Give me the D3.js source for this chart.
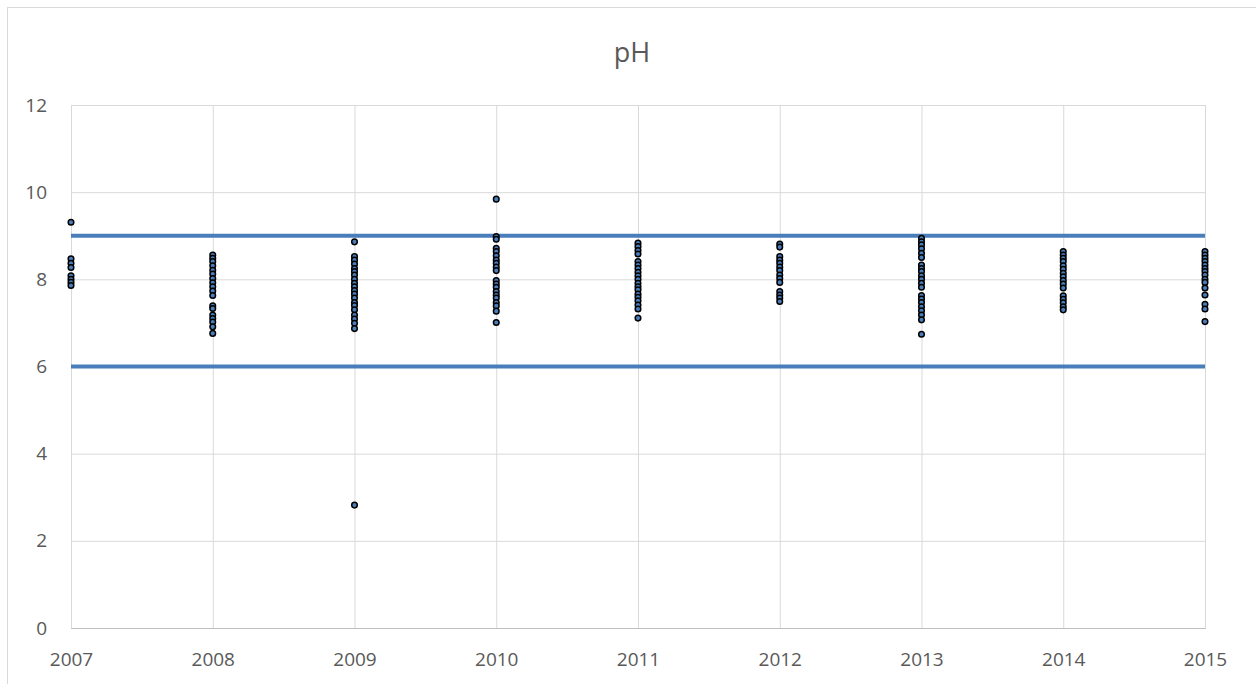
<!DOCTYPE html>
<html><head><meta charset="utf-8">
<script src="https://cdn.jsdelivr.net/npm/d3@7"></script>
<style>body{margin:0;background:#fff}svg{display:block}</style>
</head><body>
<script>
const years = [2007, 2008, 2009, 2010, 2011, 2012, 2013, 2014, 2015];
const yTicks = [0, 2, 4, 6, 8, 10, 12];
const limits = [6, 9];
const ph2007 = [9.31, 8.47, 8.37, 8.27, 8.08, 8.0, 7.93, 7.86];
const ph2008 = [8.56, 8.48, 8.41, 8.31, 8.21, 8.12, 8.02, 7.92, 7.83, 7.73, 7.63, 7.39, 7.33, 7.18, 7.10, 7.02, 6.91, 6.76];
const ph2009 = [8.86, 8.52, 8.44, 8.35, 8.25, 8.18, 8.10, 8.0, 7.91, 7.83, 7.74, 7.66, 7.57, 7.47, 7.40, 7.30, 7.18, 7.09, 6.99, 6.87, 2.82];
const ph2010 = [9.84, 8.98, 8.92, 8.71, 8.64, 8.54, 8.44, 8.37, 8.28, 8.20, 7.97, 7.89, 7.82, 7.72, 7.64, 7.57, 7.47, 7.39, 7.27, 7.01];
const ph2011 = [8.83, 8.75, 8.66, 8.58, 8.41, 8.33, 8.25, 8.16, 8.08, 8.0, 7.91, 7.83, 7.76, 7.66, 7.59, 7.51, 7.41, 7.32, 7.11];
const ph2012 = [8.81, 8.74, 8.52, 8.44, 8.37, 8.28, 8.20, 8.10, 8.02, 7.93, 7.72, 7.64, 7.57, 7.49];
const ph2013 = [8.94, 8.86, 8.79, 8.70, 8.60, 8.50, 8.33, 8.25, 8.18, 8.08, 8.0, 7.91, 7.82, 7.63, 7.55, 7.47, 7.37, 7.28, 7.18, 7.07, 6.74];
const ph2014 = [8.64, 8.56, 8.48, 8.41, 8.31, 8.23, 8.14, 8.06, 7.97, 7.89, 7.80, 7.62, 7.54, 7.46, 7.37, 7.30];
const ph2015 = [8.64, 8.56, 8.48, 8.41, 8.33, 8.25, 8.18, 8.10, 8.0, 7.93, 7.80, 7.64, 7.43, 7.32, 7.03];
const seriesByYear = [ph2007, ph2008, ph2009, ph2010, ph2011, ph2012, ph2013, ph2014, ph2015];

const W = 1256, H = 684;
const m = {left: 71, right: 1205, top: 105, bottom: 628};
const font = "'Open Sans', 'Liberation Sans', sans-serif";
const txt = "#595959";

const svg = d3.select("body").append("svg").attr("width", W).attr("height", H);
svg.append("rect").attr("x", 7.5).attr("y", 7.5).attr("width", 1270).attr("height", 700)
  .attr("fill", "#fff").attr("stroke", "#d9d9d9").attr("stroke-width", 1);

const x = d3.scaleLinear().domain([2007, 2015]).range([m.left, m.right]);
const y = d3.scaleLinear().domain([0, 12]).range([m.bottom, m.top]);

// horizontal gridlines
const gy = svg.append("g").attr("transform", `translate(${m.left},0)`)
  .call(d3.axisLeft(y).tickValues(yTicks).tickSize(-(m.right - m.left)).tickFormat(d => d).tickPadding(24));
gy.select(".domain").remove();
gy.selectAll(".tick line").attr("stroke", "#d9d9d9").attr("stroke-width", 1);
gy.selectAll(".tick text").attr("fill", txt).style("font-family", font).style("font-size", "19px");

// vertical gridlines
const gx = svg.append("g").attr("transform", `translate(0,${m.bottom})`)
  .call(d3.axisBottom(x).tickValues(years).tickSize(-(m.bottom - m.top)).tickFormat(d3.format("d")).tickPadding(25));
gx.select(".domain").attr("stroke", "#bfbfbf");
gx.selectAll(".tick line").attr("stroke", "#d9d9d9").attr("stroke-width", 1);
gx.selectAll(".tick text").attr("fill", txt).style("font-family", font).style("font-size", "19px");

// limit lines
svg.append("g").selectAll("line").data(limits).join("line")
  .attr("x1", x(2007)).attr("x2", x(2015))
  .attr("y1", d => y(d)).attr("y2", d => y(d))
  .attr("stroke", "#4a7ebb").attr("stroke-width", 4);

// points
const pts = [];
years.forEach((yr, i) => seriesByYear[i].forEach(v => pts.push({yr, v})));
svg.append("g").selectAll("circle").data(pts).join("circle")
  .attr("cx", d => x(d.yr)).attr("cy", d => y(d.v)).attr("r", 2.8)
  .attr("fill", "#4a7ebb").attr("stroke", "#000").attr("stroke-width", 1.5);

// title
svg.append("text").attr("x", 632).attr("y", 62).attr("text-anchor", "middle")
  .attr("fill", txt).style("font-family", font).style("font-size", "27px").text("pH");
</script>
</body></html>
